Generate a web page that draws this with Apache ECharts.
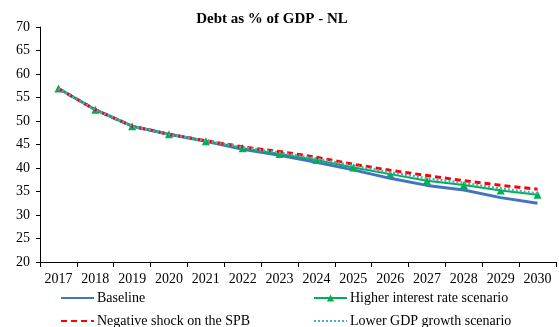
<!DOCTYPE html>
<html>
<head>
<meta charset="utf-8">
<script src="https://cdn.jsdelivr.net/npm/echarts@6/dist/echarts.min.js"></script>
<style>
  html, body { margin: 0; padding: 0; background: #fff; }
  #chart { width: 559px; height: 327px; }
</style>
</head>
<body>
<div id="chart"></div>
<script>
// Debt-to-GDP projections for the Netherlands under four scenarios
const years = ['2017','2018','2019','2020','2021','2022','2023','2024','2025','2026','2027','2028','2029','2030'];
const baseline      = [56.9, 52.4, 48.9, 47.2, 45.7, 44.0, 42.7, 41.2, 39.6, 37.8, 36.3, 35.3, 33.7, 32.5];
const higherRate    = [56.9, 52.4, 48.9, 47.2, 45.7, 44.2, 43.0, 41.7, 40.1, 38.7, 37.3, 36.4, 35.2, 34.3];
const negativeSPB   = [56.9, 52.4, 48.9, 47.2, 45.8, 44.5, 43.5, 42.3, 40.8, 39.5, 38.4, 37.3, 36.3, 35.5];
const lowerGrowth   = [56.9, 52.4, 48.9, 47.2, 45.8, 44.4, 43.3, 42.0, 40.5, 39.1, 37.8, 36.8, 35.6, 34.6];
const yTicks = [20, 25, 30, 35, 40, 45, 50, 55, 60, 65, 70];

const serif = '"Liberation Serif", "Times New Roman", serif';
const chart = echarts.init(document.getElementById('chart'));

// one legend block per entry so the two-column layout can be placed freely
function legendAt(name, left, top, showSymbol) {
  return {
    data: [name], left: left, top: top, orient: 'horizontal',
    itemWidth: 33, itemHeight: 9, itemGap: 3, padding: 0,
    itemStyle: showSymbol ? {} : { opacity: 0 },
    textStyle: { fontFamily: serif, fontSize: 14, color: '#000', padding: [0, 0, 0, -2] },
    selectedMode: false
  };
}

chart.setOption({
  animation: false,
  title: {
    text: 'Debt as % of GDP - NL',
    left: 267, top: 7, textAlign: 'center',
    textStyle: { fontFamily: serif, fontSize: 15, fontWeight: 'bold', color: '#000' }
  },
  legend: [
    legendAt('Baseline', 60, 291, false),
    legendAt('Higher interest rate scenario', 313, 291, true),
    legendAt('Negative shock on the SPB', 60, 314, false),
    legendAt('Lower GDP growth scenario', 313, 314, false)
  ],
  grid: { left: 40, right: 3, top: 27, bottom: 65 },
  xAxis: {
    type: 'category', data: years, boundaryGap: true,
    axisLine: { lineStyle: { color: '#000', width: 1 } },
    axisTick: { show: true, alignWithLabel: false, length: 5, lineStyle: { color: '#000' } },
    axisLabel: { fontFamily: serif, fontSize: 14, color: '#000', margin: 10 },
    splitLine: { show: false }
  },
  yAxis: {
    type: 'value', min: yTicks[0], max: yTicks[yTicks.length - 1], interval: 5,
    axisLine: { show: true, lineStyle: { color: '#000', width: 1 } },
    axisTick: { show: true, length: 4, lineStyle: { color: '#000' } },
    axisLabel: { fontFamily: serif, fontSize: 14, color: '#000', margin: 10 },
    splitLine: { show: false }
  },
  series: [
    {
      name: 'Baseline', type: 'line', data: baseline, symbol: 'none',
      lineStyle: { color: '#4472C4', width: 3 }, itemStyle: { color: '#4472C4' }, z: 1
    },
    {
      name: 'Higher interest rate scenario', type: 'line', data: higherRate,
      symbol: 'triangle', symbolSize: 8, showSymbol: true,
      lineStyle: { color: '#00B050', width: 2 }, itemStyle: { color: '#00B050' }, z: 2
    },
    {
      name: 'Negative shock on the SPB', type: 'line', data: negativeSPB, symbol: 'none',
      lineStyle: { color: '#FF0000', width: 3, type: [6, 4] }, itemStyle: { color: '#FF0000' }, z: 3
    },
    {
      name: 'Lower GDP growth scenario', type: 'line', data: lowerGrowth, symbol: 'none',
      lineStyle: { color: '#4BACC6', width: 2.5, type: [2, 2] }, itemStyle: { color: '#4BACC6' }, z: 4
    }
  ]
});
</script>
</body>
</html>
